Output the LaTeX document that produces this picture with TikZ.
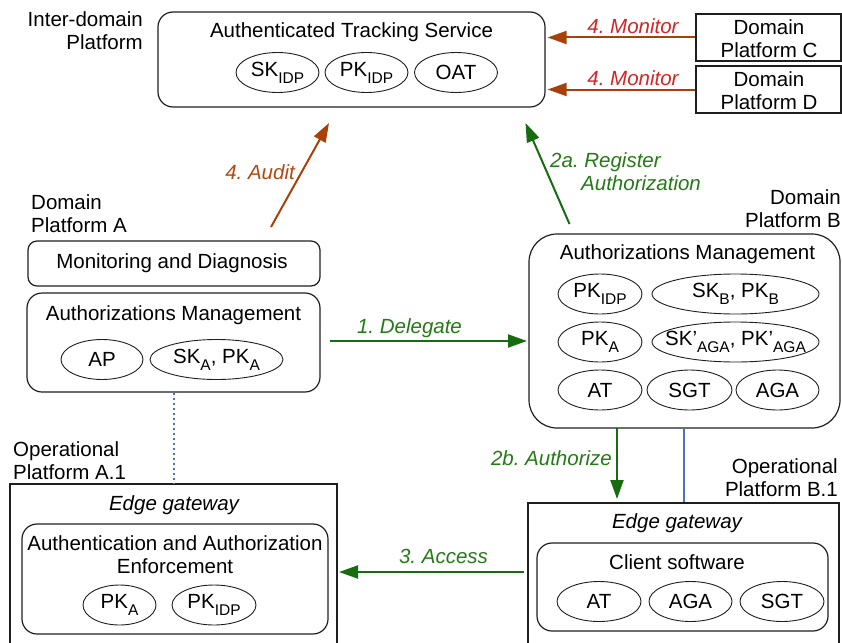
\documentclass[tikz,border=0pt]{standalone}
\usepackage{fontspec}
\setmainfont{Liberation Sans}
\usetikzlibrary{arrows.meta,shapes.geometric}
\frenchspacing

\definecolor{edgeline}{RGB}{30,30,30}
\definecolor{flowgreen}{RGB}{22,108,14}
\definecolor{labelgreen}{RGB}{36,122,22}
\definecolor{auditbrown}{RGB}{168,64,10}
\definecolor{auditlabel}{RGB}{180,72,18}
\definecolor{monitorred}{RGB}{212,36,36}
\definecolor{linkblue}{RGB}{70,116,190}

% lowered, smaller index text
\newcommand{\idx}[1]{\raisebox{-7pt}{\fontsize{15.5}{15.5}\selectfont #1}}

\tikzset{
  x=1pt, y=-1pt,
  roundbox/.style={draw=edgeline, line width=1.2pt, rounded corners=15pt, inner sep=0pt},
  plainbox/.style={draw=edgeline, line width=1.2pt, inner sep=0pt},
  keyitem/.style={draw=edgeline, ellipse, line width=0.9pt, minimum height=40pt,
    minimum width=83pt, inner sep=0pt, font=\fontsize{20.5}{22}\selectfont},
  caption/.style={inner sep=0pt, anchor=north, font=\fontsize{20.5}{23}\selectfont},
  titletext/.style={caption},
  flow/.style={line width=2pt, -{Triangle[length=19pt,width=13pt]}},
  greenflow/.style={flow, draw=flowgreen, fill=flowgreen},
  brownflow/.style={flow, draw=auditbrown, fill=auditbrown},
  greenlabel/.style={caption, text=labelgreen, font=\fontsize{20.5}{23}\selectfont\itshape},
}

\begin{document}
\begin{tikzpicture}
\useasboundingbox (0,0) rectangle (842,642);
\clip (0,0) rectangle (842,642);

% ---------------- Inter-domain platform ----------------
\node[caption, anchor=north east, align=right] (interlbl) at (143,11) {Inter-domain\\Platform};
\node[roundbox, minimum width=387pt, minimum height=95pt] (ats) at (351.5,59.5) {};
\node[titletext] (atstitle) at (351.5,22) {Authenticated Tracking Service};
\node[keyitem] (skidp) at (277.5,72.5) {SK\idx{IDP}};
\node[keyitem] (pkidp) at (366.5,72.5) {PK\idx{IDP}};
\node[keyitem] (oat) at (456,72.5) {OAT};

% ---------------- Domain platforms C and D ----------------
\node[plainbox, minimum width=145pt, minimum height=47pt] (domC) at (768.5,37.5) {};
\node[caption, align=center] (domCtxt) at (769,19) {Domain\\Platform C};
\node[plainbox, minimum width=145pt, minimum height=47pt] (domD) at (768.5,89.5) {};
\node[caption, align=center] (domDtxt) at (769,71) {Domain\\Platform D};

\draw[brownflow, shorten >=2pt] (domC.west) -- (ats.east |- domC.west);
\draw[brownflow, shorten >=2pt] (domD.west) -- (ats.east |- domD.west);
\node[caption, text=monitorred, font=\fontsize{20.5}{23}\selectfont\itshape] (mon1) at (633,18) {4. Monitor};
\node[caption, text=monitorred, font=\fontsize{20.5}{23}\selectfont\itshape] (mon2) at (633,70.5) {4. Monitor};

% ---------------- Domain platform A ----------------
\node[caption, anchor=north west, align=left] (domAlbl) at (31,194) {Domain\\Platform A};
\node[roundbox, rounded corners=9pt, minimum width=292pt, minimum height=45pt] (mondiag) at (174,263.5) {};
\node[titletext] (mondiagtxt) at (172,253.5) {Monitoring and Diagnosis};
\node[roundbox, minimum width=293pt, minimum height=99pt] (amA) at (173.5,342.5) {};
\node[titletext] (amAtitle) at (173.5,305.5) {Authorizations Management};
\node[keyitem, minimum width=82pt] (ap) at (102,359.5) {AP};
\node[keyitem, minimum width=133pt] (skA) at (216.5,359.5) {SK\idx{A}, PK\idx{A}};

% ---------------- Domain platform B ----------------
\node[caption, anchor=north east, align=right] (domBlbl) at (841,189) {Domain\\Platform B};
\node[roundbox, rounded corners=28pt, minimum width=311pt, minimum height=194pt] (amB) at (684.5,331) {};
\node[titletext] (amBtitle) at (687.5,244.5) {Authorizations Management};
\node[keyitem, minimum width=84pt] (bpkidp) at (600,294) {PK\idx{IDP}};
\node[keyitem, minimum width=167pt] (bskB) at (735.5,294) {SK\idx{B}, PK\idx{B}};
\node[keyitem, minimum width=84pt] (bpkA) at (600,342) {PK\idx{A}};
\node[keyitem, minimum width=167pt] (bskaga) at (735.5,342) {\makebox[0pt]{SK'\idx{AGA}, PK'\idx{AGA}}};
\node[keyitem, minimum width=84pt] (bat) at (600,390) {AT};
\node[keyitem, minimum width=85pt] (bsgt) at (689.5,390) {SGT};
\node[keyitem, minimum width=83pt] (baga) at (777.5,390) {AGA};

% ---------------- Operational platform A.1 ----------------
\node[caption, anchor=north west, align=left] (opAlbl) at (13,441) {Operational\\Platform A.1};
\node[plainbox, minimum width=327pt, minimum height=180pt] (edgeA) at (173.5,574) {};
\node[titletext, font=\fontsize{20.5}{23}\selectfont\itshape] (edgeAtitle) at (174,495) {Edge gateway};
\node[roundbox, minimum width=306pt, minimum height=110pt] (aae) at (175,579) {};
\node[titletext, align=center] (aaetitle) at (175,535.5) {Authentication and Authorization\\Enforcement};
\node[keyitem, minimum width=73pt] (epkA) at (119.5,605) {PK\idx{A}};
\node[keyitem, minimum width=84pt] (epkidp) at (214,605) {PK\idx{IDP}};

% ---------------- Operational platform B.1 ----------------
\node[caption, anchor=north east, align=right] (opBlbl) at (838,458) {Operational\\Platform B.1};
\node[plainbox, minimum width=311pt, minimum height=160pt] (edgeB) at (683.5,583) {};
\node[titletext, font=\fontsize{20.5}{23}\selectfont\itshape] (edgeBtitle) at (677,513) {Edge gateway};
\node[roundbox, minimum width=291pt, minimum height=88pt] (client) at (682.5,587) {};
\node[titletext] (clienttitle) at (677,554) {Client software};
\node[keyitem, minimum width=84pt] (cat) at (599,601.5) {AT};
\node[keyitem, minimum width=83pt] (caga) at (690.5,601.5) {AGA};
\node[keyitem, minimum width=84pt] (csgt) at (782,601.5) {SGT};

% ---------------- connectors ----------------
\coordinate (auditstart) at (271,227);
\coordinate (auditend) at (329,123);
\draw[brownflow] (auditstart) -- (auditend);
\node[caption, anchor=north east, text=auditlabel, font=\fontsize{20.5}{23}\selectfont\itshape] (auditlbl) at (295,164.5) {4. Audit};

\coordinate (regstart) at (569.5,224);
\coordinate (regend) at (525.5,123);
\draw[greenflow] (regstart) -- (regend);
\node[greenlabel, anchor=north west, align=left] (reglbl) at (550,152) {2a. Register\\\hspace*{31pt}Authorization};

\coordinate (delstart) at (330,341);
\coordinate (delend) at (527,341);
\draw[greenflow] (delstart) -- (delend);
\node[greenlabel] (dellbl) at (409.5,318.5) {1. Delegate};

\coordinate (authzstart) at (617,428);
\coordinate (authzend) at (617,499);
\draw[greenflow] (authzstart) -- (authzend);
\node[greenlabel, anchor=north east] (authzlbl) at (612,450.5) {2b. Authorize};

\coordinate (accstart) at (524,572);
\coordinate (accend) at (339,572);
\draw[greenflow] (accstart) -- (accend);
\node[greenlabel] (acclbl) at (443.5,548.5) {3. Access};

\draw[linkblue, line width=2pt, dash pattern=on 2.5pt off 2.5pt] (amA.south -| 174,0) -- (edgeA.north -| 174,0);
\draw[linkblue, line width=1.3pt] (amB.south -| 684,0) -- (edgeB.north -| 684,0);
\end{tikzpicture}
\end{document}
